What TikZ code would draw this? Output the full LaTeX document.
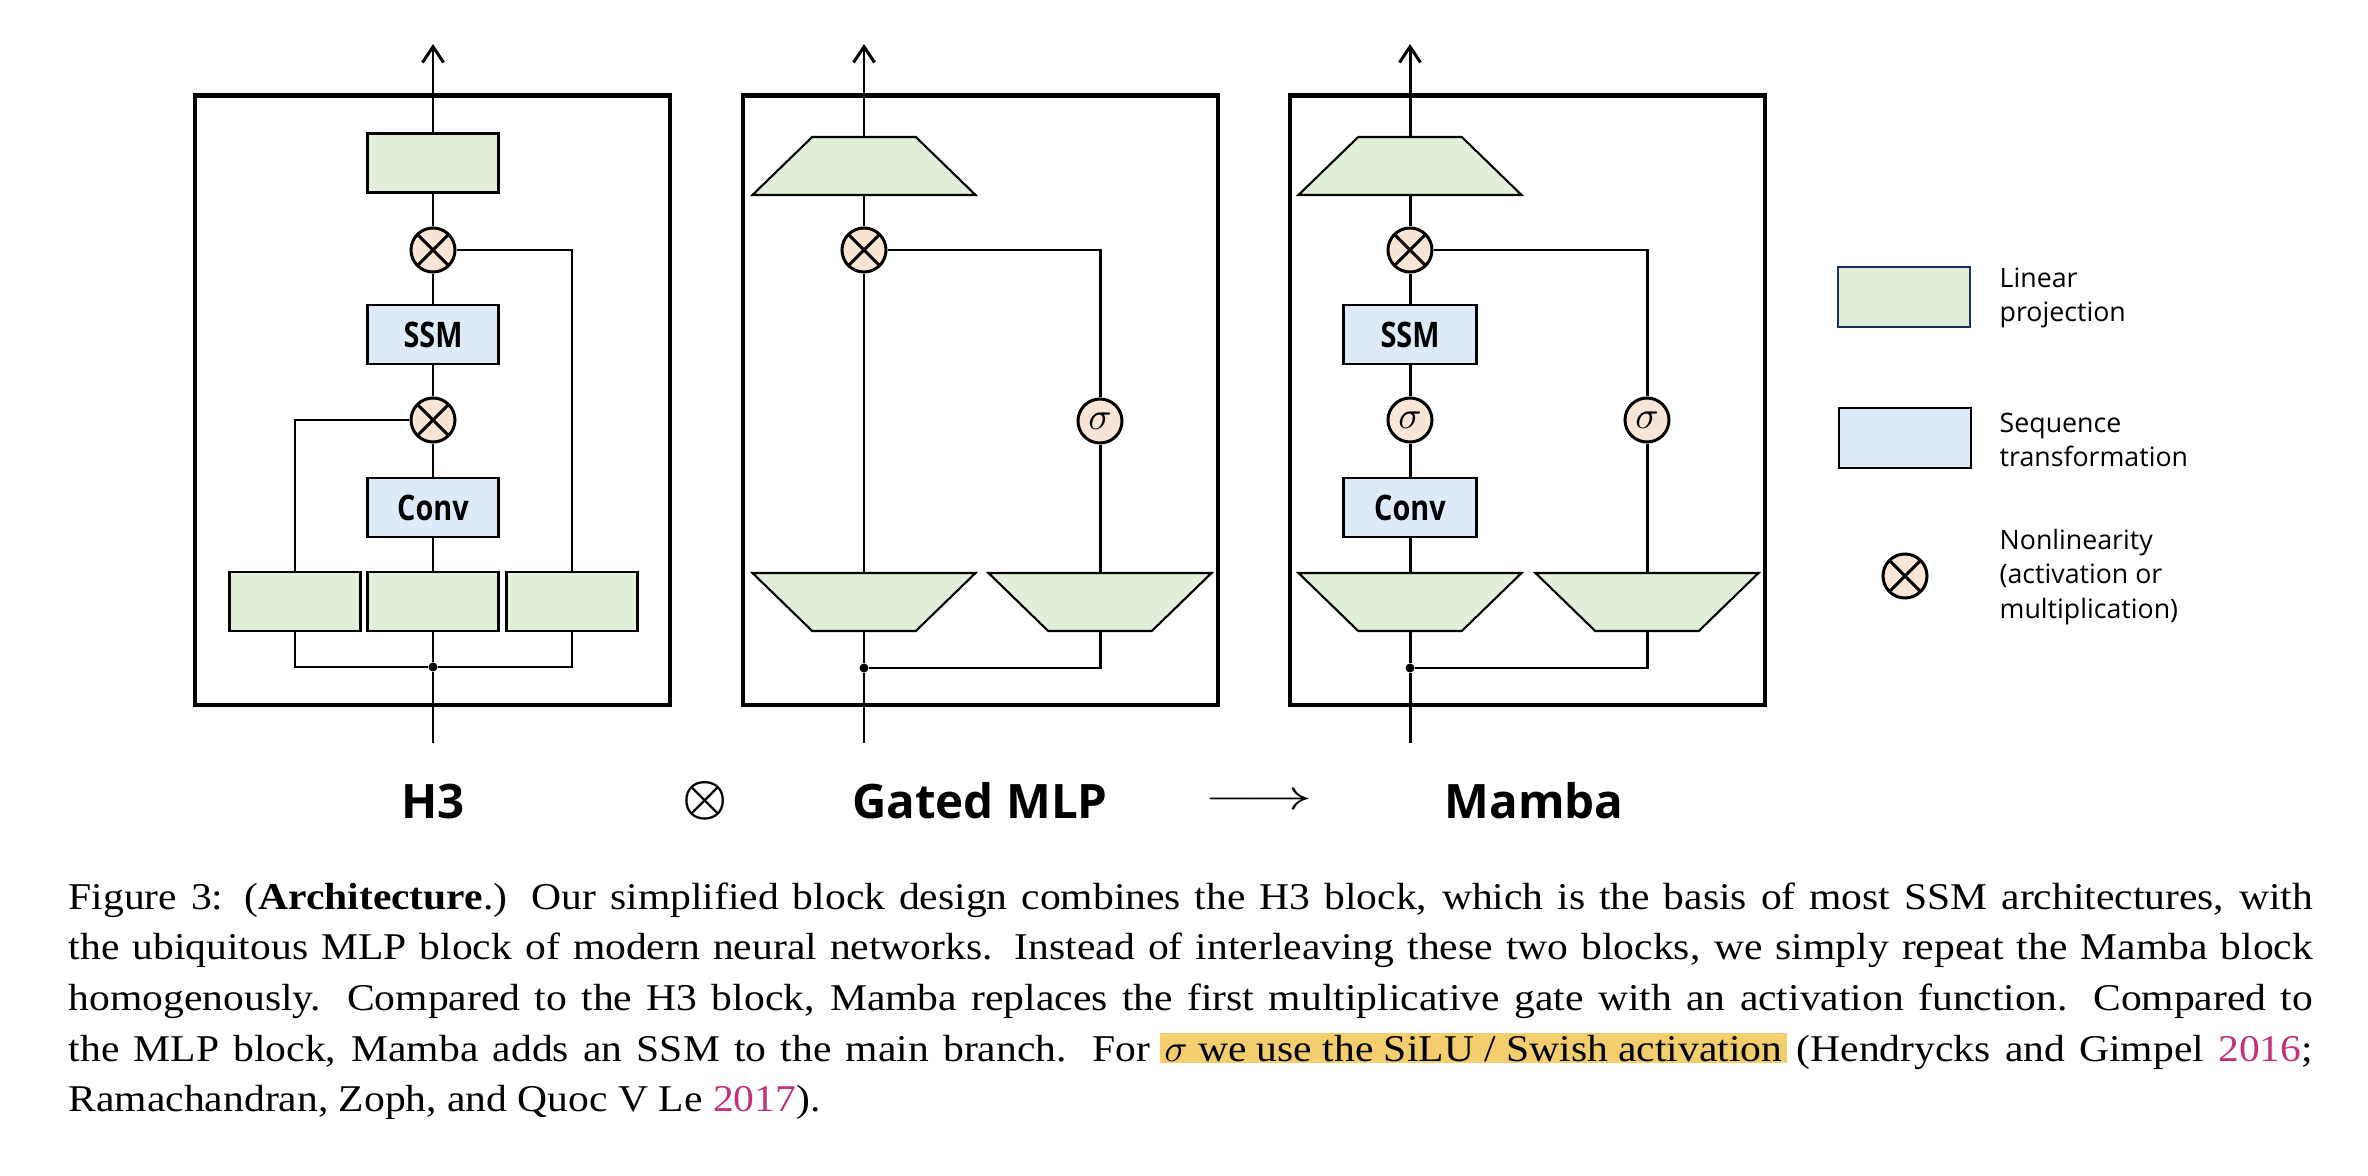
\documentclass[tikz,border=0pt]{standalone}
\usepackage{amsmath}
\usepackage{amssymb}
\usepackage{bm}
\usepackage{fontspec}
\setmainfont[FakeStretch=1.1]{Liberation Serif}
\newfontfamily\diafont{Open Sans}
\newfontfamily\condfont[FakeStretch=0.82]{Open Sans}
\usepackage{tikz}
\usetikzlibrary{arrows.meta,shapes.geometric,positioning}
\definecolor{linfill}{RGB}{226,239,218}
\definecolor{seqfill}{RGB}{222,235,246}
\definecolor{nlfill}{RGB}{248,229,214}
\definecolor{hlfill}{RGB}{242,206,110}
\definecolor{citecol}{RGB}{196,48,122}
\definecolor{navy}{RGB}{31,45,90}
% highlighted phrase of the caption
\newcommand\hlmark[1]{\setbox0=\hbox{#1}\rlap{\kern-1.1pt\color{hlfill}\rule[-0.4pt]{\dimexpr\wd0+2.3pt\relax}{8.4pt}}\box0\relax}
\tikzset{
    linear/.style={
    rectangle,draw=black,fill=linfill,line width=0.6pt,minimum width=1.31cm,minimum height=0.59cm,inner sep=0pt
    },
    seqtrans/.style={
    rectangle,draw=black,fill=seqfill,line width=0.6pt,minimum width=1.31cm,minimum height=0.59cm,inner sep=0pt,
    font=\condfont\bfseries\fontsize{10}{10}\selectfont
    },
    uptrap/.style={
    trapezium,trapezium stretches=true,trapezium left angle=60,trapezium right angle=60,
    draw=black,fill=linfill,line width=0.6pt,minimum width=2.23cm,minimum height=0.58cm,inner sep=1pt
    },
    downtrap/.style={
    uptrap,shape border rotate=180
    },
    nonlin/.style={
    circle,draw=black,fill=nlfill,line width=0.85pt,minimum size=0.44cm,inner sep=0pt,
    path picture={\draw[line width=0.85pt] (path picture bounding box.north west) -- (path picture bounding box.south east)
      (path picture bounding box.north east) -- (path picture bounding box.south west);}
    },
    act/.style={
    circle,draw=black,fill=nlfill,line width=0.85pt,minimum size=0.44cm,inner sep=0pt,font=\fontsize{11}{11}\selectfont
    },
    block/.style={
    rectangle,draw=black,line width=1.25pt,inner sep=0pt,minimum width=4.75cm,minimum height=6.095cm
    },
    wire/.style={line width=0.85pt},
    flow/.style={line width=0.85pt,-{Straight Barb[length=4.5pt,width=6pt]}},
    junction/.style={circle,fill=black,inner sep=0pt,minimum size=0.09cm},
    blockname/.style={font=\diafont\bfseries\fontsize{13.5}{16}\selectfont,anchor=base},
    legendtext/.style={font=\diafont\fontsize{7.6}{9.8}\selectfont,align=left,anchor=west,inner sep=0pt},
}

\begin{document}
\begin{tikzpicture}[x=0.01cm,y=-0.01cm]
   \useasboundingbox (0,0) rectangle (2368,1176);

   %H3
   \node[block] (h3) at (432.5,400.25) {};
   \node[linear] (h3lt) at (433,163) {};
   \node[nonlin] (h3mt) at (433,250) {};
   \node[seqtrans] (h3ssm) at (433,334.5) {SSM};
   \node[nonlin] (h3ml) at (433,420) {};
   \node[seqtrans] (h3conv) at (433,507.5) {Conv};
   \node[linear] (h3l1) at (295,601.5) {};
   \node[linear] (h3l2) at (433,601.5) {};
   \node[linear] (h3l3) at (572,601.5) {};
   \node[junction] (h3j) at (433,667) {};
   \coordinate (h3in) at (433,743);
   \coordinate (h3out) at (433,44);

   %gated mlp
   \node[block] (gm) at (980.5,400.25) {};
   \node[uptrap] (gmpo) at (864,166) {};
   \node[nonlin] (gmm) at (864,250) {};
   \node[act] (gms) at (1100,421) {$\sigma$};
   \node[downtrap] (gmp1) at (864,602) {};
   \node[downtrap] (gmp2) at (1100,602) {};
   \node[junction] (gmj) at (864,668) {};
   \coordinate (gmin) at (864,743);
   \coordinate (gmout) at (864,44);

   %mamba
   \node[block] (mb) at (1527.5,400.25) {};
   \node[uptrap] (mbpo) at (1410,166) {};
   \node[nonlin] (mbm) at (1410,250) {};
   \node[seqtrans,minimum width=1.33cm] (mbssm) at (1410,334.5) {SSM};
   \node[act] (mbsa) at (1410,420) {$\sigma$};
   \node[seqtrans,minimum width=1.33cm] (mbconv) at (1410,507.5) {Conv};
   \node[act] (mbsb) at (1647,420) {$\sigma$};
   \node[downtrap] (mbp1) at (1410,602) {};
   \node[downtrap] (mbp2) at (1647,602) {};
   \node[junction] (mbj) at (1410,668) {};
   \coordinate (mbin) at (1410,743);
   \coordinate (mbout) at (1410,44);

   %names below
   \node[blockname] (lh3) at (433,818) {H3};
   \node[font=\fontsize{14.5}{14.5}\selectfont] (lcomb) at (705,801) {$\bm{\otimes}$};
   \node[blockname] (lgm) at (980,818) {Gated MLP};
   \node[font=\fontsize{13}{13}\selectfont] (lto) at (1259,802) {\scalebox{1.6}[1]{$\longrightarrow$}};
   \node[blockname] (lmb) at (1534,818) {Mamba};

   %legend
   \node[linear,draw=navy,minimum width=1.32cm,minimum height=0.6cm] (lglin) at (1904,297) {};
   \node[seqtrans,minimum width=1.32cm,minimum height=0.6cm] (lgseq) at (1905,438) {};
   \node[nonlin] (lgnl) at (1905,576) {};
   \node[legendtext] (tlin) at (1999,298) {Linear\\projection};
   \node[legendtext] (tseq) at (1999,440) {Sequence\\transformation};
   \node[legendtext] (tnl) at (1999,577) {Nonlinearity\\(activation or\\multiplication)};

   %caption
   \node[anchor=north west,inner sep=0pt,text width=22.43cm,align=justify,font=\fontsize{10.75}{14.4}\selectfont] (caption) at (68,882)
   {Figure 3: (\textbf{Architecture}.) Our simplified block design combines the H3 block, which is the basis of most SSM architectures, with\linebreak
    the ubiquitous MLP block of modern neural networks. Instead of interleaving these two blocks, we simply repeat the Mamba block\linebreak
    homogenously. Compared to the H3 block, Mamba replaces the first multiplicative gate with an activation function. Compared to\linebreak
    the MLP block, Mamba adds an SSM to the main branch. For \hlmark{$\sigma$ we use the SiLU / Swish activation} (Hendrycks and Gimpel \textcolor{citecol}{2016};\linebreak
    Ramachandran, Zoph, and Quoc V Le \textcolor{citecol}{2017}).};

  %H3
  \draw[wire] (h3in) -- (h3j) -- (h3l2);
  \draw[wire] (h3l1.south) |- (h3j) -| (h3l3.south);
  \draw[wire] (h3l2) -- (h3conv) -- (h3ml) -- (h3ssm) -- (h3mt) -- (h3lt);
  \draw[wire] (h3l1.north) |- (h3ml);
  \draw[wire] (h3l3.north) |- (h3mt);
  \draw[flow] (h3lt) -- (h3out);

  %gated mlp
  \draw[wire] (gmin) -- (gmj) -- (gmp1);
  \draw[wire] (gmj) -| (gmp2.south);
  \draw[wire] (gmp1) -- (gmm) -- (gmpo);
  \draw[wire] (gmp2) -- (gms) |- (gmm);
  \draw[flow] (gmpo) -- (gmout);

  %mamba
  \draw[wire] (mbin) -- (mbj) -- (mbp1);
  \draw[wire] (mbj) -| (mbp2.south);
  \draw[wire] (mbp1) -- (mbconv) -- (mbsa) -- (mbssm) -- (mbm) -- (mbpo);
  \draw[wire] (mbp2) -- (mbsb) |- (mbm);
  \draw[flow] (mbpo) -- (mbout);
\end{tikzpicture}
\end{document}
